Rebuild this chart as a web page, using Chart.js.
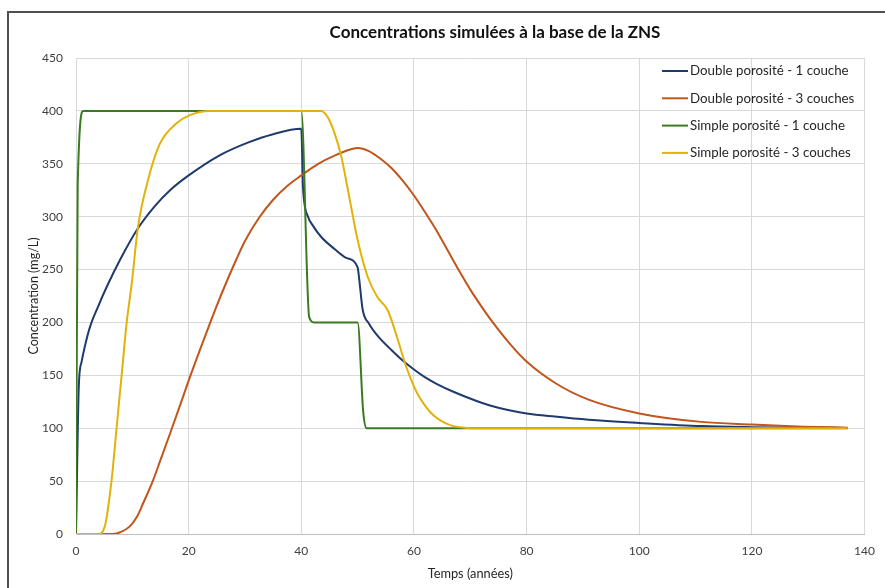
<!DOCTYPE html>
<html>
  <head>
    <meta charset="UTF-8" />
    <title>Concentrations simulées</title>
    <script src="https://cdn.jsdelivr.net/npm/chart.js"></script>
    <style>
      body { margin: 0; background: #fff; overflow: hidden; }
      #wrap { position: relative; width: 885px; height: 588px; }
      #frame {
        position: absolute; left: 7px; top: 11px; width: 900px; height: 600px;
        border: 2px solid #505050; pointer-events: none;
      }
    </style>
  </head>
  <body>
    <div id="wrap">
      <canvas id="myChart" width="885" height="588"></canvas>
      <div id="frame"></div>
    </div>
    <script>
      // Séries (temps en années, concentration en mg/L)
      const titre = 'Concentrations simulées à la base de la ZNS';
      const noms = [
        'Double porosité - 1 couche',
        'Double porosité - 3 couches',
        'Simple porosité - 1 couche',
        'Simple porosité - 3 couches'
      ];
      const couleurs = ['#1f3a6e', '#c0561c', '#3b7a22', '#e2b20a'];

      const tempsDP1 = [0, 0.5, 1, 1.6, 2.5, 4, 5.4, 7.8, 11, 14, 16.7, 20, 25.5, 30.5, 35, 40, 40.3, 41.2, 42, 43.5, 46, 48, 50, 50.3, 50.9, 52, 53.6, 56, 58, 60, 62, 64, 67, 71, 73.5, 76.5, 80, 85, 91, 100, 111, 120, 130, 137];
      const concDP1  = [0, 140, 163, 178, 196, 216, 233, 259, 289, 310, 325, 339, 358, 370, 378, 383, 328, 300, 292, 281, 269, 261, 252, 240, 212, 199, 187, 174, 164, 155.5, 148, 142, 134.5, 126, 121.5, 117.5, 114, 111, 108, 105, 102, 101, 100.5, 100.3];

      const tempsDP3 = [0, 6.5, 8, 9.5, 10.8, 12, 13.7, 15, 16.7, 18.5, 20.2, 22, 23.7, 25, 26.7, 28.5, 30, 32.5, 35, 37.5, 40, 43, 46, 49, 50, 52, 54, 56, 58, 60, 62, 64, 66, 68, 70, 72, 74, 77, 80, 85, 91, 100, 111, 120, 129, 137];
      const concDP3  = [0, 0, 2, 7, 16, 30, 51, 70, 95, 122, 148, 174, 198, 216, 238, 260, 277, 299, 316, 329, 339, 350, 358, 364, 365, 362, 355, 346, 334, 320, 304, 287, 268, 249, 231, 215, 200, 180, 163, 143, 127, 114, 106, 103.5, 101.5, 100.5];

      const tempsSP1 = [0, 0.3, 1.3, 40, 41.4, 42.3, 50, 51, 51.6, 137];
      const concSP1  = [0, 330, 400, 400, 205, 200, 200, 115, 100, 100];

      const tempsSP3 = [0, 4, 5.1, 6.3, 7.2, 8.1, 9, 9.9, 11, 12.8, 14.9, 17.8, 20.2, 23.7, 43.5, 44.7, 45.9, 47.1, 48.5, 50, 51.8, 53.5, 55.3, 57, 58.5, 60.4, 62.3, 63.5, 65.3, 67, 69, 71, 137];
      const concSP3  = [0, 0, 7, 50, 100, 150, 200, 237, 290, 335, 369, 388, 396, 400, 400, 394, 379, 357, 319, 278, 243, 224, 212, 186, 160, 135, 119, 112, 105.5, 102, 100.5, 100, 100];

      const ticksX = { min: 0, max: 140, pas: 20 };
      const ticksY = { min: 0, max: 450, pas: 50 };

      const points = (t, c) => t.map((x, i) => ({ x: x, y: c[i] }));
      const series = [
        points(tempsDP1, concDP1),
        points(tempsDP3, concDP3),
        points(tempsSP1, concSP1),
        points(tempsSP3, concSP3)
      ];

      const police = 'Lato, "DejaVu Sans", sans-serif';
      const gris = '#d9d9d9';

      // titre et légende dessinés à la main (décalés comme dans l'original)
      const habillage = {
        id: 'habillage',
        afterDraw(chart) {
          const ctx = chart.ctx;
          ctx.save();
          ctx.font = 'bold 17px ' + police;
          ctx.textAlign = 'center';
          ctx.textBaseline = 'middle';
          ctx.fillStyle = '#111';
          ctx.fillText(titre, 495, 33);

          ctx.font = '13.3px ' + police;
          ctx.textAlign = 'left';
          ctx.fillStyle = '#262626';
          chart.data.datasets.forEach((ds, i) => {
            const y = 71 + i * 27.3;
            ctx.strokeStyle = ds.borderColor;
            ctx.lineWidth = 2;
            ctx.beginPath();
            ctx.moveTo(662, y);
            ctx.lineTo(688, y);
            ctx.stroke();
            ctx.fillText(ds.label, 690, y);
          });
          ctx.restore();
        }
      };

      const ctx = document.getElementById('myChart').getContext('2d');
      new Chart(ctx, {
        type: 'scatter',
        data: {
          datasets: series.map((s, i) => ({
            label: noms[i],
            data: s,
            showLine: true,
            borderColor: couleurs[i],
            backgroundColor: couleurs[i],
            borderWidth: 2,
            pointRadius: 0,
            cubicInterpolationMode: 'monotone',
            order: 3 - i
          }))
        },
        options: {
          responsive: false,
          devicePixelRatio: 1,
          animation: false,
          layout: { padding: { left: 0, right: 15, top: 58, bottom: 0 } },
          plugins: {
            legend: { display: false },
            tooltip: { enabled: false },
            title: { display: false }
          },
          scales: {
            x: {
              type: 'linear',
              min: ticksX.min,
              max: ticksX.max,
              afterFit: s => { s.height = 54; },
              ticks: {
                stepSize: ticksX.pas,
                padding: 10,
                color: '#404040',
                font: { family: police, size: 12 }
              },
              grid: { color: gris, drawTicks: false },
              border: { color: '#bfbfbf' },
              title: {
                display: true,
                text: 'Temps (années)',
                color: '#262626',
                font: { family: police, size: 12.8 },
                padding: 6
              }
            },
            y: {
              min: ticksY.min,
              max: ticksY.max,
              afterFit: s => { s.width = 76; },
              ticks: {
                stepSize: ticksY.pas,
                padding: 13,
                color: '#404040',
                font: { family: police, size: 12 }
              },
              grid: { color: gris, drawTicks: false },
              border: { color: gris },
              title: {
                display: true,
                text: 'Concentration (mg/L)',
                color: '#262626',
                font: { family: police, size: 12.5 },
                padding: 26
              }
            }
          }
        },
        plugins: [habillage]
      });
    </script>
  </body>
</html>
